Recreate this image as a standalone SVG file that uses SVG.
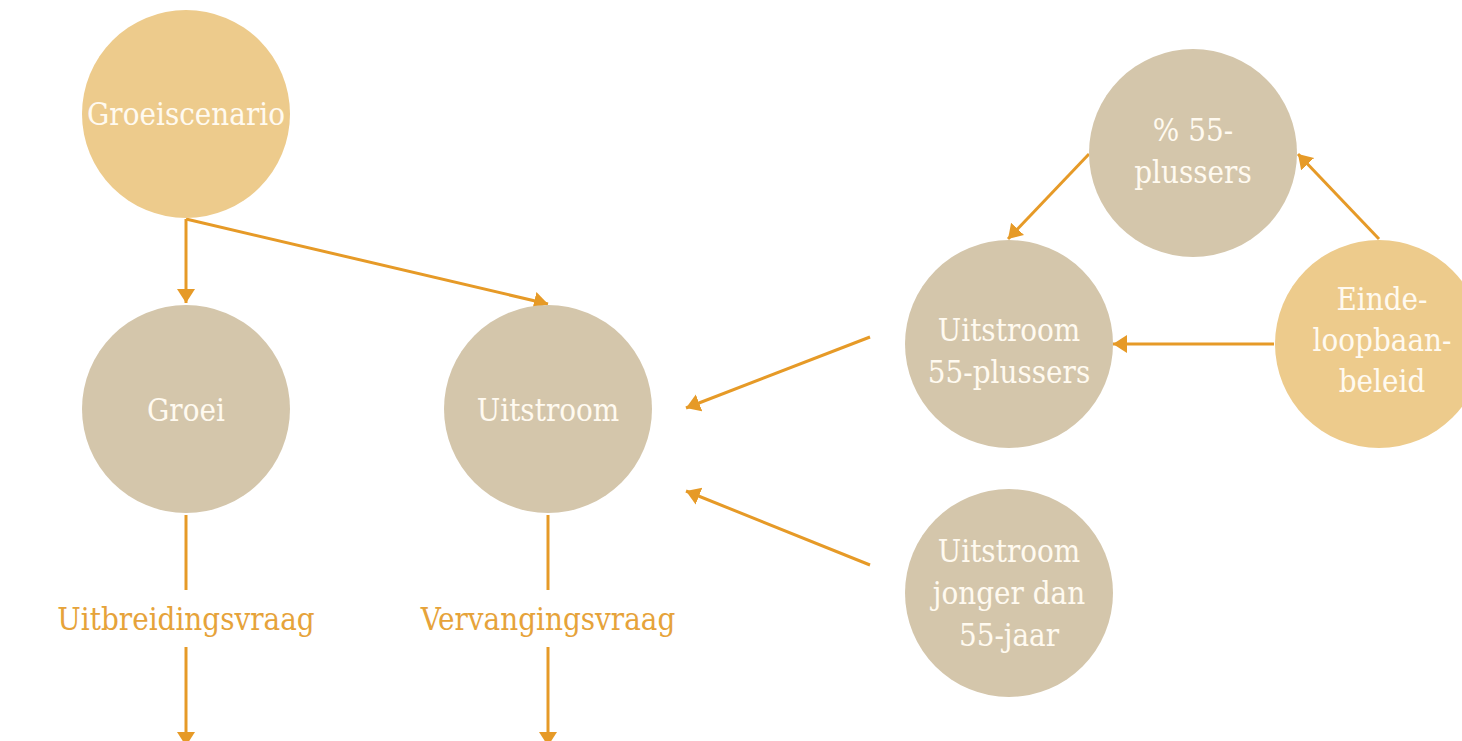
<svg xmlns="http://www.w3.org/2000/svg" width="1462" height="741" viewBox="0 0 1462 741">
<style>
.tan{fill:#d4c6ab}
.gold{fill:#edcb8c}
.nt{font-family:"DejaVu Serif Condensed","DejaVu Serif","Liberation Serif",serif;font-size:31px;fill:#fffaf0;text-anchor:middle}
.lbl{font-family:"DejaVu Serif Condensed","DejaVu Serif","Liberation Serif",serif;font-size:31px;fill:#e6a33a;text-anchor:middle}
.c{stroke:#e69a27;stroke-width:3;fill:none}
.a{marker-end:url(#ah)}
</style>
<defs>
<marker id="ah" markerUnits="userSpaceOnUse" markerWidth="16" markerHeight="20" refX="14" refY="9" orient="auto">
<path d="M0,0 L14,9 L0,18 Z" fill="#e69a27"/>
</marker>
</defs>
<rect width="1462" height="741" fill="#ffffff"/>
<g id="connectors">
<line class="c a" x1="186" y1="219" x2="186" y2="303"/>
<line class="c a" x1="186" y1="219" x2="548" y2="304"/>
<line class="c a" x1="870" y1="337" x2="686" y2="408"/>
<line class="c a" x1="870" y1="565" x2="686" y2="491"/>
<line class="c a" x1="1089" y1="154" x2="1008" y2="239"/>
<line class="c a" x1="1379" y1="239" x2="1298" y2="154"/>
<line class="c a" x1="1274" y1="344" x2="1113" y2="344"/>
<line class="c" x1="186" y1="515" x2="186" y2="590"/>
<line class="c" x1="548" y1="515" x2="548" y2="590"/>
<line class="c a" x1="186" y1="647" x2="186" y2="746"/>
<line class="c a" x1="548" y1="647" x2="548" y2="746"/>
</g>
<g id="groeiscenario">
<circle class="gold" cx="186" cy="114" r="104"/>
<text class="nt" x="186" y="125">Groeiscenario</text>
</g>
<g id="groei">
<circle class="tan" cx="186" cy="409" r="104"/>
<text class="nt" x="186" y="421">Groei</text>
</g>
<g id="uitstroom">
<circle class="tan" cx="548" cy="409" r="104"/>
<text class="nt" x="548" y="421">Uitstroom</text>
</g>
<g id="pct55">
<circle class="tan" cx="1193" cy="153" r="104"/>
<text class="nt" x="1193" y="141">% 55-</text>
<text class="nt" x="1193" y="183">plussers</text>
</g>
<g id="uitstroom55">
<circle class="tan" cx="1009" cy="344" r="104"/>
<text class="nt" x="1009" y="341">Uitstroom</text>
<text class="nt" x="1009" y="383">55-plussers</text>
</g>
<g id="eindeloopbaan">
<circle class="gold" cx="1379" cy="344" r="104"/>
<text class="nt" x="1382" y="310">Einde-</text>
<text class="nt" x="1382" y="351">loopbaan-</text>
<text class="nt" x="1382" y="392">beleid</text>
</g>
<g id="uitstroomjong">
<circle class="tan" cx="1009" cy="593" r="104"/>
<text class="nt" x="1009" y="562">Uitstroom</text>
<text class="nt" x="1009" y="604">jonger dan</text>
<text class="nt" x="1009" y="646">55-jaar</text>
</g>
<g id="uitbreidingsvraag">
<text class="lbl" x="186" y="630">Uitbreidingsvraag</text>
</g>
<g id="vervangingsvraag">
<text class="lbl" x="548" y="630">Vervangingsvraag</text>
</g>
</svg>
